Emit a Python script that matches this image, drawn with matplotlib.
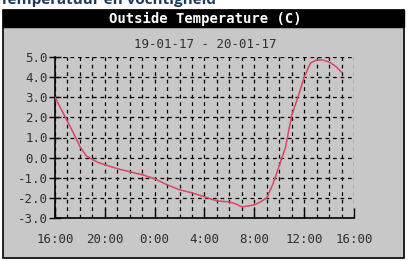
import matplotlib
matplotlib.use("Agg")
import matplotlib.pyplot as plt
from matplotlib.patches import Rectangle

# Data: hours since 16:00 on 19-01-17, outside temperature (C)
hours = [0, 0.5, 1.0, 1.5, 2.0, 2.5, 3.0, 3.5, 4, 5, 6, 7, 8, 9, 10, 11, 12, 13,
         14, 14.5, 15, 15.5, 16, 16.5, 17, 17.5, 18, 18.5, 19, 19.5, 20, 20.5,
         21, 21.5, 22, 22.5, 23]
temps = [3.0, 2.4, 1.8, 1.2, 0.55, 0.1, -0.1, -0.25, -0.35, -0.55, -0.7, -0.85,
         -1.05, -1.35, -1.6, -1.75, -1.95, -2.15, -2.2, -2.3, -2.45, -2.4, -2.35,
         -2.2, -2.0, -1.3, -0.4, 0.5, 2.1, 3.0, 4.0, 4.7, 4.85, 4.85, 4.75, 4.55,
         4.25]
xtick_pos = [0, 4, 8, 12, 16, 20, 24]
xtick_labels = ["16:00", "20:00", "0:00", "4:00", "8:00", "12:00", "16:00"]
ytick_pos = [5, 4, 3, 2, 1, 0, -1, -2, -3]
title = "Outside Temperature (C)"
subtitle = "19-01-17 - 20-01-17"
header = "Temperatuur en vochtigheid"

W, H = 410, 261
fig = plt.figure(figsize=(W / 100, H / 100), dpi=100)
fig.patch.set_facecolor("white")

def fx(x):
    return x / W

def fy(y):
    return 1 - y / H

gray = "#c8c8c8"
# panel
fig.add_artist(Rectangle((fx(3), fy(257.5)), fx(404) - fx(3), fy(10) - fy(257.5),
                         transform=fig.transFigure, facecolor=gray,
                         edgecolor="black", linewidth=1.2, zorder=0))
# title bar
fig.add_artist(Rectangle((fx(3), fy(27)), fx(404) - fx(3), fy(10) - fy(27),
                         transform=fig.transFigure, facecolor="black",
                         edgecolor="black", linewidth=1, zorder=1))
fig.text(fx(205), fy(18.5), title, color="white", ha="center", va="center",
         fontsize=10, fontweight="bold", family="DejaVu Sans Mono", zorder=2)
fig.text(fx(205), fy(44), subtitle, color="#303030", ha="center", va="center",
         fontsize=9, family="DejaVu Sans Mono", zorder=2)
fig.text(fx(0), fy(4), header, color="#1e3a5c", ha="left", va="baseline",
         fontsize=11, fontweight="bold", family="Open Sans", zorder=2)

ax = fig.add_axes([fx(55), fy(218), fx(354) - fx(55), fy(57) - fy(218)])
ax.set_facecolor(gray)
ax.set_zorder(3)
ax.set_xlim(0, 24)
ax.set_ylim(-3, 5)

ax.set_xticks(xtick_pos)
ax.set_xticklabels(xtick_labels)
ax.set_xticks(range(0, 25), minor=True)
ax.set_yticks(ytick_pos)
ax.set_yticklabels([f"{v:.1f}" for v in ytick_pos])

ax.grid(True, which="both", axis="x", color="black", linestyle=(0, (3, 3)), linewidth=0.9)
ax.grid(True, which="major", axis="y", color="black", linestyle=(0, (3, 3)), linewidth=0.9)
ax.set_axisbelow(True)

for s in ["top", "right"]:
    ax.spines[s].set_visible(False)
for s in ["left", "bottom"]:
    ax.spines[s].set_color("black")
    ax.spines[s].set_linewidth(1.2)

ax.tick_params(axis="x", which="major", direction="in", length=7, width=1,
               colors="black", labelcolor="#303030", labelsize=9, pad=11)
ax.tick_params(axis="x", which="minor", length=0)
ax.tick_params(axis="y", direction="inout", length=8, width=1,
               colors="black", labelcolor="#303030", labelsize=9, pad=1)
for lab in ax.get_xticklabels() + ax.get_yticklabels():
    lab.set_family("DejaVu Sans Mono")

ax.plot(hours, temps, color="#dd4466", linewidth=1.1, zorder=5)

fig.savefig("out.png", dpi=100)
